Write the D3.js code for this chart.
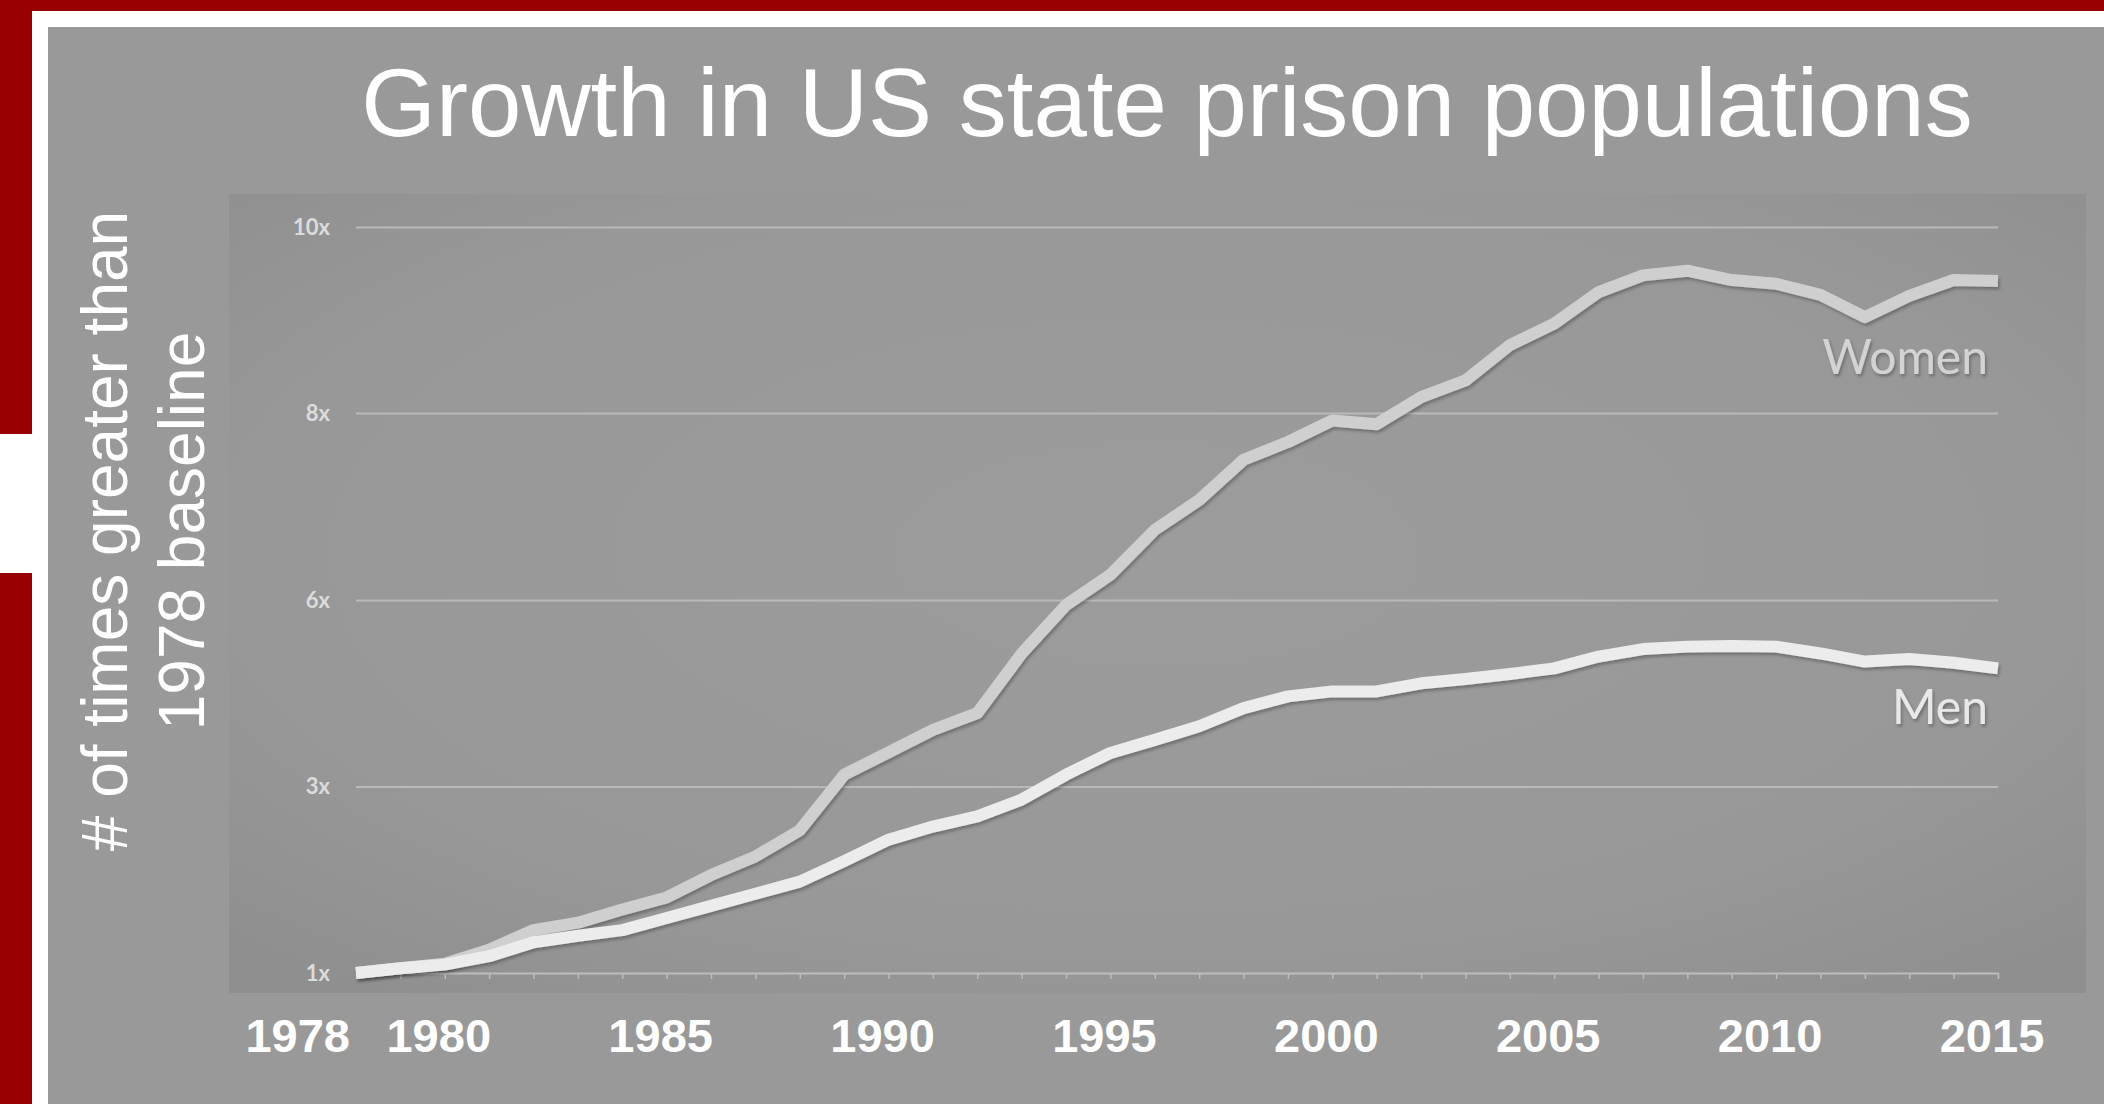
<!DOCTYPE html>
<html>
<head>
<meta charset="utf-8">
<title>Growth in US state prison populations</title>
<script src="https://cdn.jsdelivr.net/npm/d3@7"></script>
<style>
  html, body { margin: 0; padding: 0; background: #999999; overflow: hidden; }
  svg { display: block; }
</style>
</head>
<body>
<div id="chart"></div>
<script>
// Growth in US state prison populations (x times the 1978 level)

const YEARS = [
  1978, 1979, 1980, 1981, 1982, 1983, 1984, 1985, 1986, 1987, 1988, 1989, 1990,
  1991, 1992, 1993, 1994, 1995, 1996, 1997, 1998, 1999, 2000, 2001, 2002,
  2003, 2004, 2005, 2006, 2007, 2008, 2009, 2010, 2011, 2012, 2013, 2014, 2015
];

const WOMEN = [
  1.00, 1.05, 1.10, 1.25, 1.46, 1.54, 1.68, 1.81, 2.05, 2.25, 2.53, 3.19, 3.55,
  3.91, 4.18, 5.14, 5.92, 6.27, 6.75, 7.07, 7.50, 7.69, 7.92, 7.88, 8.17,
  8.35, 8.73, 8.96, 9.30, 9.48, 9.53, 9.43, 9.39, 9.27, 9.03, 9.26, 9.43, 9.42
];

const MEN = [
  1.00, 1.05, 1.09, 1.18, 1.33, 1.40, 1.46, 1.59, 1.72, 1.85, 1.98, 2.20, 2.43,
  2.57, 2.68, 2.86, 3.19, 3.54, 3.75, 3.97, 4.26, 4.45, 4.53, 4.53, 4.66,
  4.73, 4.81, 4.90, 5.09, 5.21, 5.25, 5.26, 5.25, 5.14, 5.01, 5.05, 4.99, 4.90
];

// the original axis is spaced evenly even though the steps are not
const Y_TICKS = [1, 3, 6, 8, 10];
const X_LABELS = [1978, 1980, 1985, 1990, 1995, 2000, 2005, 2010, 2015];

const W = 2104;
const H = 1104;
const plot = { left: 356, right: 1998, top: 227, bottom: 973 };

const svg = d3.select("#chart")
  .append("svg")
  .attr("width", W)
  .attr("height", H);

const defs = svg.append("defs");

const vignette = defs.append("radialGradient")
  .attr("id", "vignette")
  .attr("cx", "50%").attr("cy", "45%").attr("r", "70%");
vignette.append("stop").attr("offset", "0%").attr("stop-color", "#9c9c9c");
vignette.append("stop").attr("offset", "70%").attr("stop-color", "#989898");
vignette.append("stop").attr("offset", "100%").attr("stop-color", "#8f8f8f");

const shadow = defs.append("filter")
  .attr("id", "shadow")
  .attr("x", "-5%").attr("y", "-20%")
  .attr("width", "110%").attr("height", "140%");
shadow.append("feDropShadow")
  .attr("dx", 1.5).attr("dy", 2.5)
  .attr("stdDeviation", 1.8)
  .attr("flood-color", "#000")
  .attr("flood-opacity", 0.28);

// ---- slide frame ----
svg.append("rect").attr("width", W).attr("height", H).attr("fill", "#999999");
svg.append("rect").attr("x", 0).attr("y", 0).attr("width", W).attr("height", 27).attr("fill", "#ffffff");
svg.append("rect").attr("x", 0).attr("y", 0).attr("width", 48).attr("height", H).attr("fill", "#ffffff");
svg.append("rect").attr("x", 0).attr("y", 0).attr("width", W).attr("height", 11).attr("fill", "#960000");
svg.append("rect").attr("x", 0).attr("y", 0).attr("width", 32).attr("height", 434).attr("fill", "#960000");
svg.append("rect").attr("x", 0).attr("y", 573).attr("width", 32).attr("height", H - 573).attr("fill", "#960000");

// chart panel (the pasted chart image in the slide)
svg.append("rect")
  .attr("x", 229).attr("y", 194)
  .attr("width", 2086 - 229).attr("height", 993 - 194)
  .attr("fill", "url(#vignette)");

// ---- scales ----
const x = d3.scaleLinear()
  .domain([YEARS[0], YEARS[YEARS.length - 1]])
  .range([plot.left, plot.right]);

const y = d3.scaleLinear()
  .domain(Y_TICKS)
  .range([973, 786.5, 600, 413, 227]);

// gridlines + y labels
const yAxis = svg.append("g")
  .attr("transform", `translate(${plot.left},0)`)
  .call(d3.axisLeft(y)
    .tickValues(Y_TICKS.slice(1))
    .tickSize(-(plot.right - plot.left))
    .tickPadding(26)
    .tickFormat((d) => `${d}x`));
yAxis.select(".domain").remove();
yAxis.selectAll(".tick line")
  .attr("stroke", "#b9b9b9")
  .attr("stroke-width", 2);

// bottom axis with yearly ticks
const xAxis = svg.append("g")
  .attr("transform", `translate(0,${plot.bottom})`)
  .call(d3.axisBottom(x)
    .tickValues(YEARS)
    .tickSize(6)
    .tickSizeOuter(0)
    .tickFormat(""));
xAxis.select(".domain").attr("stroke", "#bdbdbd").attr("stroke-width", 2);
xAxis.selectAll(".tick line").attr("stroke", "#bdbdbd").attr("stroke-width", 1.5);

// 1x label sits on the axis line
svg.append("text")
  .attr("x", plot.left - 26)
  .attr("y", y(1))
  .attr("dy", "0.38em")
  .attr("text-anchor", "end")
  .text("1x");

svg.selectAll(".tick text, text")
  .attr("fill", "#dcdcdc")
  .attr("font-family", "Lato, 'Noto Sans', sans-serif")
  .attr("font-weight", 700)
  .attr("font-size", 22);

// ---- lines ----
const line = d3.line()
  .x((d) => x(d.year))
  .y((d) => y(d.value));

const series = [
  { name: "Women", values: WOMEN, color: "#cfcfcf", labelColor: "#d3d3d3", dy: 93 },
  { name: "Men", values: MEN, color: "#ececec", labelColor: "#e8e8e8", dy: 56 }
];

series.forEach((s) => {
  const pts = YEARS.map((yr, i) => ({ year: yr, value: s.values[i] }));
  svg.append("path")
    .datum(pts)
    .attr("fill", "none")
    .attr("stroke", s.color)
    .attr("stroke-width", 12)
    .attr("stroke-linejoin", "round")
    .attr("filter", "url(#shadow)")
    .attr("d", line);

  const last = pts[pts.length - 1];
  svg.append("text")
    .attr("x", x(last.year) - 10)
    .attr("y", y(last.value) + s.dy)
    .attr("text-anchor", "end")
    .attr("font-family", "Lato, 'Noto Sans', sans-serif")
    .attr("font-size", 48)
    .attr("fill", s.labelColor)
    .attr("filter", "url(#shadow)")
    .text(s.name);
});

// ---- year labels (bold, white, added on the slide) ----
svg.selectAll(".year-label")
  .data(X_LABELS)
  .enter()
  .append("text")
  .attr("class", "year-label")
  .attr("x", (d) => x(d) - 6)
  .attr("y", 1052)
  .attr("text-anchor", (d, i) => (i === 0 ? "end" : "middle"))
  .attr("font-family", "'Liberation Sans', Arial, sans-serif")
  .attr("font-weight", 700)
  .attr("font-size", 47)
  .attr("fill", "#ffffff")
  .text((d) => d);

// ---- title ----
svg.append("text")
  .attr("x", 1167)
  .attr("y", 136)
  .attr("text-anchor", "middle")
  .attr("font-family", "'Liberation Sans', Arial, sans-serif")
  .attr("font-size", 96)
  .attr("fill", "#ffffff")
  .text("Growth in US state prison populations");

// ---- y axis title (two lines, rotated) ----
const yTitle = svg.append("text")
  .attr("transform", "translate(127,531) rotate(-90)")
  .attr("text-anchor", "middle")
  .attr("font-family", "'Liberation Sans', Arial, sans-serif")
  .attr("font-size", 64)
  .attr("fill", "#ffffff");
yTitle.append("tspan").attr("x", 0).attr("dy", 0).text("# of times greater than");
yTitle.append("tspan").attr("x", 0).attr("dy", 77).text("1978 baseline");
</script>
</body>
</html>
